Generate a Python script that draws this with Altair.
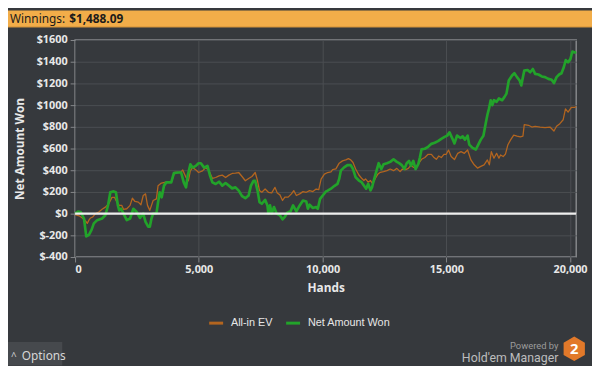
import altair as alt
import pandas as pd

# ---------------- data ----------------
series = ["All-in EV", "Net Amount Won"]
series_colors = ["#b3651f", "#22a32a"]

x_ticks = [0, 5000, 10000, 15000, 20000]
y_ticks = [-400, -200, 0, 200, 400, 600, 800, 1000, 1200, 1400, 1600]

won_hands = [0, 130, 227, 360, 452, 559, 665, 758, 892, 1091, 1224, 1330, 1424, 1557, 1650, 1730,
             1783, 1860, 1956, 2089, 2222, 2355, 2488, 2621, 2754, 2847, 2954, 3020, 3087, 3154,
             3287, 3353, 3420, 3500, 3593, 3686, 3886, 3992, 4150, 4285, 4391, 4484, 4550, 4658,
             4750, 4880, 4990, 5083, 5216, 5349, 5456, 5549, 5682, 5815, 5948, 6081, 6214, 6347,
             6480, 6613, 6746, 6880, 7013, 7106, 7213, 7279, 7373, 7453, 7546, 7679, 7772, 7812,
             7879, 7945, 8038, 8143, 8277, 8383, 8476, 8571, 8704, 8810, 8942, 9076, 9209, 9342,
             9408, 9475, 9608, 9741, 9808, 9900, 10007, 10140, 10207, 10340, 10472, 10605, 10672,
             10738, 10871, 11005, 11138, 11231, 11337, 11470, 11577, 11670, 11763, 11843, 11936,
             12003, 12069, 12162, 12268, 12375, 12468, 12601, 12734, 12868, 13001, 13094, 13201,
             13307, 13400, 13494, 13573, 13667, 13760, 13867, 13933, 14000, 14133, 14266, 14399,
             14532, 14665, 14798, 14931, 15037, 15130, 15263, 15330, 15436, 15570, 15662, 15755,
             15861, 15928, 16061, 16195, 16294, 16394, 16500, 16594, 16660, 16727, 16794, 16860,
             16926, 17033, 17126, 17259, 17352, 17432, 17525, 17658, 17751, 17858, 17965, 18031,
             18097, 18151, 18284, 18391, 18497, 18590, 18723, 18857, 18990, 19124, 19257, 19349,
             19456, 19561, 19655, 19748, 19828, 19920, 20014, 20094, 20187, 20253]
won_amount = [0, 20, 15, -45, -210, -195, -150, -90, -60, -45, -15, 75, 197, 205, 197, 75,
              30, 45, 0, -60, -45, 45, 15, -40, 0, -75, -120, -120, -45, 0,
              0, 105, 197, 150, 258, 288, 288, 373, 379, 379, 288, 242, 348, 455,
              424, 440, 464, 464, 424, 440, 348, 288, 273, 294, 258, 282, 258, 233,
              242, 212, 161, 142, 167, 258, 303, 303, 212, 106, 91, 127, 76, 0,
              76, 0, 61, 0, -15, -52, -30, 9, 21, 76, 21, 76, 121, 112,
              45, 82, 52, 61, 45, 136, 167, 205, 212, 230, 254, 275, 320,
              396, 426, 447, 447, 411, 335, 305, 290, 260, 230, 275, 215,
              245, 305, 381, 465, 411, 456, 465, 477, 501, 477, 465, 447,
              411, 465, 486, 441, 486, 411, 456, 517, 592, 598, 616, 643,
              653, 668, 689, 707, 719, 749, 683, 647, 720, 697, 712, 682,
              718, 636, 606, 591, 636, 682, 718, 833, 909, 970, 1045, 1000,
              1045, 1030, 1061, 1045, 1076, 1106, 1227, 1273, 1294, 1258, 1227, 1182,
              1258, 1318, 1324, 1303, 1333, 1288, 1282, 1264, 1258, 1242, 1233, 1203,
              1258, 1282, 1294, 1349, 1415, 1394, 1424, 1494, 1485, 1488]

ev_hands = [0, 160, 293, 400, 492, 559, 625, 718, 825, 958, 1091, 1224, 1357, 1490, 1597, 1690,
            1783, 1890, 1956, 2089, 2222, 2315, 2422, 2555, 2661, 2754, 2847, 2927, 3020, 3154,
            3287, 3353, 3487, 3620, 3753, 3886, 4019, 4152, 4285, 4351, 4484, 4577, 4657, 4750,
            4884, 4990, 5150, 5282, 5416, 5549, 5682, 5815, 5948, 6081, 6214, 6347, 6480, 6613,
            6746, 6880, 7013, 7146, 7279, 7372, 7452, 7546, 7679, 7812, 7945, 8078, 8170, 8277,
            8383, 8476, 8609, 8742, 8836, 8942, 9076, 9209, 9342, 9475, 9608, 9741, 9848, 9941,
            10074, 10207, 10340, 10407, 10539, 10672, 10805, 10938, 11045, 11138, 11231, 11337,
            11470, 11577, 11670, 11736, 11843, 11936, 12029, 12136, 12242, 12335, 12468, 12601,
            12734, 12868, 13001, 13134, 13227, 13360, 13467, 13573, 13667, 13760, 13867, 14000,
            14133, 14266, 14399, 14505, 14598, 14691, 14798, 14904, 14997, 15090, 15197, 15330,
            15463, 15596, 15729, 15861, 15995, 16128, 16261, 16394, 16527, 16660, 16740, 16820,
            16926, 17033, 17126, 17193, 17299, 17393, 17485, 17592, 17725, 17858, 17991, 18097,
            18151, 18324, 18457, 18590, 18790, 18990, 19190, 19350, 19456, 19589, 19722, 19815,
            19921, 20054, 20187, 20253]
ev_amount = [-9, -20, -40, -60, -90, -60, -40, -30, 0, 15, 40, 60, 90, 150, 150, 106,
             76, 76, 40, 45, 76, 142, 112, 106, 82, 167, 182, 76, 30, 121,
             136, 258, 282, 288, 294, 288, 379, 379, 385, 403, 333, 303, 394, 424,
             403, 379, 394, 424, 394, 324, 333, 348, 355, 333, 355, 370, 373, 379,
             342, 303, 324, 342, 379, 303, 212, 197, 227, 197, 191, 242, 191, 173,
             121, 152, 152, 182, 212, 167, 182, 203, 197, 212, 203, 227, 221, 318,
             364, 379, 385, 405, 413, 465, 486, 495, 507, 495, 471, 411,
             356, 326, 305, 320, 290, 305, 275, 326, 366, 381, 387, 396,
             411, 396, 417, 387, 411, 405, 417, 447, 426, 426, 456, 501,
             517, 547, 547, 517, 501, 531, 517, 547, 547, 586, 526, 498,
             556, 571, 556, 586, 495, 450, 420, 435, 450, 495, 450, 571,
             511, 556, 511, 541, 526, 550, 632, 677, 723, 714, 707, 714,
             820, 814, 798, 805, 798, 793, 798, 762, 805, 829, 865, 965,
             935, 980, 980, 986]

winnings_label = "Winnings:"
winnings_value = "$1,488.09"
x_title = "Hands"
y_title = "Net Amount Won"

ev_df = pd.DataFrame({"Hands": ev_hands, "Amount": ev_amount, "Series": series[0]})
won_df = pd.DataFrame({"Hands": won_hands, "Amount": won_amount, "Series": series[1]})

one = pd.DataFrame({"k": [0]})
zero_df = pd.DataFrame({"Amount": [0]})

LABEL_FONT = "Open Sans"

x_enc = alt.X("Hands:Q",
              scale=alt.Scale(domain=[0, 20250], nice=False, zero=False),
              axis=alt.Axis(values=x_ticks, format=",d", title=x_title, labelOverlap=False,
                            grid=True, tickSize=5, labelPadding=2, titlePadding=8))
y_enc = alt.Y("Amount:Q",
              scale=alt.Scale(domain=[-400, 1600], nice=False),
              axis=alt.Axis(values=y_ticks, labelExpr="'$' + datum.value", title=y_title,
                            labelOverlap=False,
                            grid=True, tickSize=5, labelPadding=3, titlePadding=10))
color_enc = alt.Color("Series:N",
                      scale=alt.Scale(domain=series, range=series_colors),
                      legend=alt.Legend(orient="none", legendX=134, legendY=278,
                                        direction="horizontal", title=None,
                                        symbolType="stroke", symbolStrokeWidth=3,
                                        symbolSize=200, labelFont="Liberation Sans",
                                        labelFontSize=11, labelColor="#e6e6e6",
                                        columnPadding=6, labelOffset=6, padding=0))

ev_line = alt.Chart(ev_df).mark_line(strokeWidth=1.3, strokeJoin="round").encode(
    x=x_enc, y=y_enc, color=color_enc)
won_line = alt.Chart(won_df).mark_line(strokeWidth=2.7, strokeJoin="round").encode(
    x=x_enc, y=y_enc, color=color_enc)

zero_rule = alt.Chart(zero_df).mark_rule(color="#eeeeee", strokeWidth=2.5).encode(y=y_enc)

# header bar
header = alt.Chart(one).mark_rect(color="#f2ad49").encode(
    x=alt.value(-68), x2=alt.value(524), y=alt.value(-30), y2=alt.value(-13))
header_line = alt.Chart(one).mark_rect(color="#dc9a3c").encode(
    x=alt.value(-68), x2=alt.value(524), y=alt.value(-14), y2=alt.value(-13))
h_text1 = alt.Chart(one).mark_text(align="left", baseline="middle", font="Noto Sans",
                                   fontSize=12, color="#1b1b1b").encode(
    x=alt.value(-66), y=alt.value(-21.5), text=alt.value(winnings_label))
h_text2 = alt.Chart(one).mark_text(align="left", baseline="middle", font="Noto Sans",
                                   fontSize=12, fontWeight="bold", color="#1b1b1b").encode(
    x=alt.value(-6), y=alt.value(-21.5), text=alt.value(winnings_value))

# options box
opt_box = alt.Chart(one).mark_rect(color="#46494d").encode(
    x=alt.value(-68), x2=alt.value(-13), y=alt.value(306), y2=alt.value(330))
opt_caret = alt.Chart(one).mark_text(align="left", baseline="middle", font="Noto Sans",
                                     fontSize=10, color="#d0d0d0").encode(
    x=alt.value(-65), y=alt.value(321), text=alt.value("^"))
opt_text = alt.Chart(one).mark_text(align="left", baseline="middle", font="Noto Sans",
                                    fontSize=12, color="#d6d6d6").encode(
    x=alt.value(-54), y=alt.value(320), text=alt.value("Options"))

# branding
powered = alt.Chart(one).mark_text(align="right", baseline="middle", font="Roboto",
                                   fontSize=9.5, color="#9c9c9c").encode(
    x=alt.value(490), y=alt.value(310), text=alt.value("Powered by"))
hem = alt.Chart(one).mark_text(align="right", baseline="middle", font="Roboto",
                               fontSize=12.5, color="#bdbdbd").encode(
    x=alt.value(490), y=alt.value(322.5), text=alt.value("Hold'em Manager"))
hexagon = alt.Chart(one).mark_point(
    shape="M0,-1L0.866,-0.5L0.866,0.5L0,1L-0.866,0.5L-0.866,-0.5Z",
    filled=True, color="#e2792a", opacity=1, size=620).encode(
    x=alt.value(506), y=alt.value(313))
hex_text = alt.Chart(one).mark_text(align="center", baseline="middle", font="Open Sans",
                                    fontSize=15, fontWeight="bold", color="#ffffff").encode(
    x=alt.value(506), y=alt.value(313), text=alt.value("2"))

chart = alt.layer(
    ev_line, won_line, zero_rule, header, header_line, h_text1, h_text2,
    opt_box, opt_caret, opt_text, powered, hem, hexagon, hex_text
).properties(
    width=508, height=220,
    padding={"left": 68, "top": 30, "right": 16, "bottom": 108},
    autosize=alt.AutoSizeParams(type="none"),
    background="#36393d",
).configure_view(
    stroke="#85878a", strokeWidth=1.5
).configure_axis(
    gridColor="#4b4e52", gridWidth=1, domain=False, labelOverlap=False,
    tickColor="#85878a", labelColor="#e8e8e8", titleColor="#e8e8e8",
    labelFont=LABEL_FONT, labelFontSize=11, labelFontWeight="bold",
    titleFont=LABEL_FONT, titleFontSize=12, titleFontWeight="bold",
)

chart.save("out.html", embed_options={"renderer": "svg", "actions": False})
